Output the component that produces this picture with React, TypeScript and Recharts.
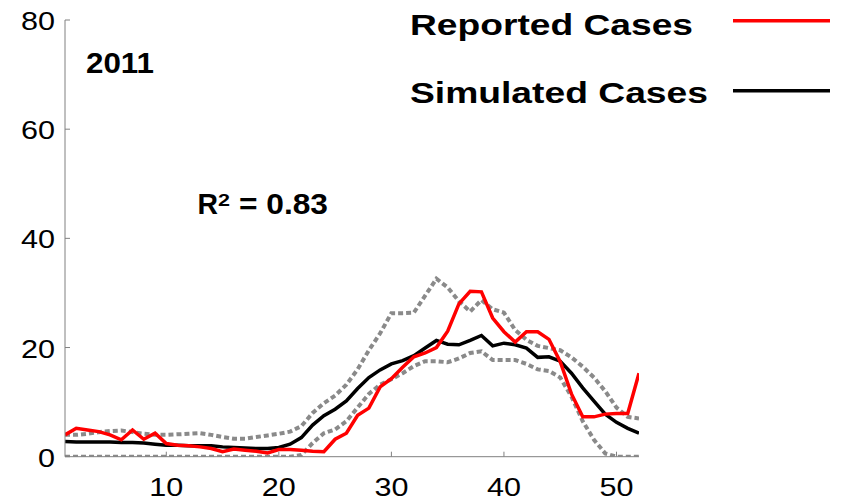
import React from "react";
import { CartesianGrid, Line, LineChart, XAxis, YAxis } from "recharts";

const FONT = '"Liberation Sans", Arial, Helvetica, sans-serif';

// epi weeks
const weeks = [
  1, 2, 3, 4, 5, 6, 7, 8, 9, 10, 11, 12, 13, 14, 15, 16, 17, 18, 19, 20, 21, 22, 23, 24, 25, 26,
  27, 28, 29, 30, 31, 32, 33, 34, 35, 36, 37, 38, 39, 40, 41, 42, 43, 44, 45, 46, 47, 48, 49, 50, 51, 52
];

const reported = [
  4.0, 5.2, 4.9, 4.6, 4.0, 3.1, 4.9, 3.2, 4.3, 2.4, 2.1, 2.0, 1.8, 1.5, 0.9, 1.4, 1.2, 1.0, 0.7, 1.3,
  1.3, 1.2, 1.0, 0.9, 3.2, 4.3, 7.6, 8.9, 12.8, 14.3, 16.4, 18.3, 19.0, 20.0, 23.0, 28.0, 30.3, 30.2,
  25.4, 22.9, 21.0, 22.9, 22.9, 21.5, 17.4, 11.5, 7.3, 7.3, 7.8, 7.9, 7.9, 15.3
];

const simulated = [
  2.8, 2.7, 2.7, 2.7, 2.7, 2.6, 2.6, 2.5, 2.3, 2.1, 2.1, 2.0, 2.0, 2.0, 1.8, 1.7, 1.6, 1.5, 1.5, 1.7,
  2.3, 3.5, 5.8, 7.5, 8.7, 10.2, 12.5, 14.5, 15.9, 17.0, 17.6, 18.5, 19.9, 21.3, 20.6, 20.5, 21.3, 22.2,
  20.3, 20.8, 20.5, 19.9, 18.2, 18.3, 17.5, 15.3, 12.6, 10.2, 7.8, 6.3, 5.2, 4.3
];

const upperBound = [
  4.0, 4.0, 4.2, 4.5, 4.7, 4.8, 4.5, 4.2, 4.0, 4.0, 4.1, 4.2, 4.3, 4.0, 3.6, 3.3, 3.3, 3.6, 3.9, 4.2,
  4.6, 5.6, 8.0, 9.8, 11.2, 13.2, 16.0, 19.5, 22.6, 26.3, 26.3, 26.4, 29.5, 32.6, 31.0, 28.5, 26.6, 28.7,
  27.0, 26.4, 23.2, 21.4, 20.3, 19.9, 19.5, 18.2, 16.5, 14.5, 12.0, 9.0, 7.3, 7.0
];

const lowerBound = [
  0, 0, 0, 0, 0, 0, 0, 0, 0, 0, 0, 0, 0, 0, 0, 0, 0, 0, 0, 0,
  0, 0.3, 2.5, 4.3, 5.0, 6.5, 9.0, 11.5, 13.2, 14.2, 15.3, 16.6, 17.5, 17.5, 17.3, 18.0, 19.0, 19.3,
  17.7, 17.7, 17.7, 17.0, 16.0, 15.7, 14.5, 11.0, 6.5, 3.1, 0.6, 0, 0, 0
];

const xTicks = [10, 20, 30, 40, 50];
const yTicks = [0, 20, 40, 60, 80];

const legendItems = [
  { name: "Reported Cases", color: "#ff0000" },
  { name: "Simulated Cases", color: "#000000" }
];

const data = weeks.map((week, i) => ({
  week,
  reported: reported[i],
  simulated: simulated[i],
  upper: upperBound[i],
  lower: lowerBound[i]
}));

const XTick = (props: any) => {
  const { x, y, payload } = props;
  const label = String(payload.value);
  return (
    <text
      x={x}
      y={y + 18.5}
      textAnchor="middle"
      fontSize={26}
      fontFamily={FONT}
      fill="#000"
      textLength={label.length * 17}
      lengthAdjust="spacingAndGlyphs"
    >
      {label}
    </text>
  );
};

const YTick = (props: any) => {
  const { x, y, payload } = props;
  const label = String(payload.value);
  return (
    <text
      x={x}
      y={y + 10}
      textAnchor="end"
      fontSize={26}
      fontFamily={FONT}
      fill="#000"
      textLength={label.length * 17}
      lengthAdjust="spacingAndGlyphs"
    >
      {label}
    </text>
  );
};

export default function App() {
  return (
    <div style={{ position: "absolute", left: 0, top: 0, width: 842, height: 500, background: "#fff" }}>
      <LineChart width={842} height={500} data={data} margin={{ top: 20, right: 203, bottom: 0, left: 0 }}>
        <CartesianGrid stroke="none" />
        <XAxis
          dataKey="week"
          type="number"
          domain={[1, 52]}
          ticks={xTicks}
          height={43.3}
          tickSize={-5}
          tickMargin={25.3}
          stroke="#808080"
          tick={<XTick />}
          allowDataOverflow
        />
        <YAxis
          domain={[0, 80]}
          ticks={yTicks}
          width={65}
          tickSize={-5}
          tickMargin={15}
          stroke="#808080"
          tick={<YTick />}
          allowDataOverflow
        />
        <Line type="linear" dataKey="upper" stroke="#8a8a8a" strokeWidth={4} strokeDasharray="5 3" dot={false} legendType="none" isAnimationActive={false} />
        <Line type="linear" dataKey="lower" stroke="#8a8a8a" strokeWidth={4} strokeDasharray="5 3" dot={false} legendType="none" isAnimationActive={false} />
        <Line type="linear" dataKey="simulated" name="Simulated Cases" stroke="#000000" strokeWidth={3.5} dot={false} isAnimationActive={false} />
        <Line type="linear" dataKey="reported" name="Reported Cases" stroke="#ff0000" strokeWidth={3.5} dot={false} isAnimationActive={false} />
      </LineChart>

      {/* annotations + legend */}
      <svg width={842} height={500} style={{ position: "absolute", left: 0, top: 0, pointerEvents: "none" }}>
        <text x={86} y={73} fontSize={30} fontWeight="bold" fontFamily={FONT} textLength={68} lengthAdjust="spacingAndGlyphs">
          2011
        </text>
        <text x={197.5} y={214} fontSize={29} fontWeight="bold" fontFamily={FONT} textLength={20.5} lengthAdjust="spacingAndGlyphs">
          R
        </text>
        <text x={218} y={206} fontSize={17} fontWeight="bold" fontFamily={FONT} textLength={12} lengthAdjust="spacingAndGlyphs">
          2
        </text>
        <text x={239} y={214} fontSize={29} fontWeight="bold" fontFamily={FONT} textLength={89} lengthAdjust="spacingAndGlyphs">
          = 0.83
        </text>
        {legendItems.map((item, i) => (
          <g key={item.name}>
            <text
              x={410}
              y={35 + i * 68}
              fontSize={30}
              fontWeight="bold"
              fontFamily={FONT}
              textLength={i === 0 ? 283 : 298}
              lengthAdjust="spacingAndGlyphs"
            >
              {item.name}
            </text>
            <line x1={733} x2={830} y1={20.7 + i * 70} y2={20.7 + i * 70} stroke={item.color} strokeWidth={3.5} />
          </g>
        ))}
      </svg>
    </div>
  );
}
